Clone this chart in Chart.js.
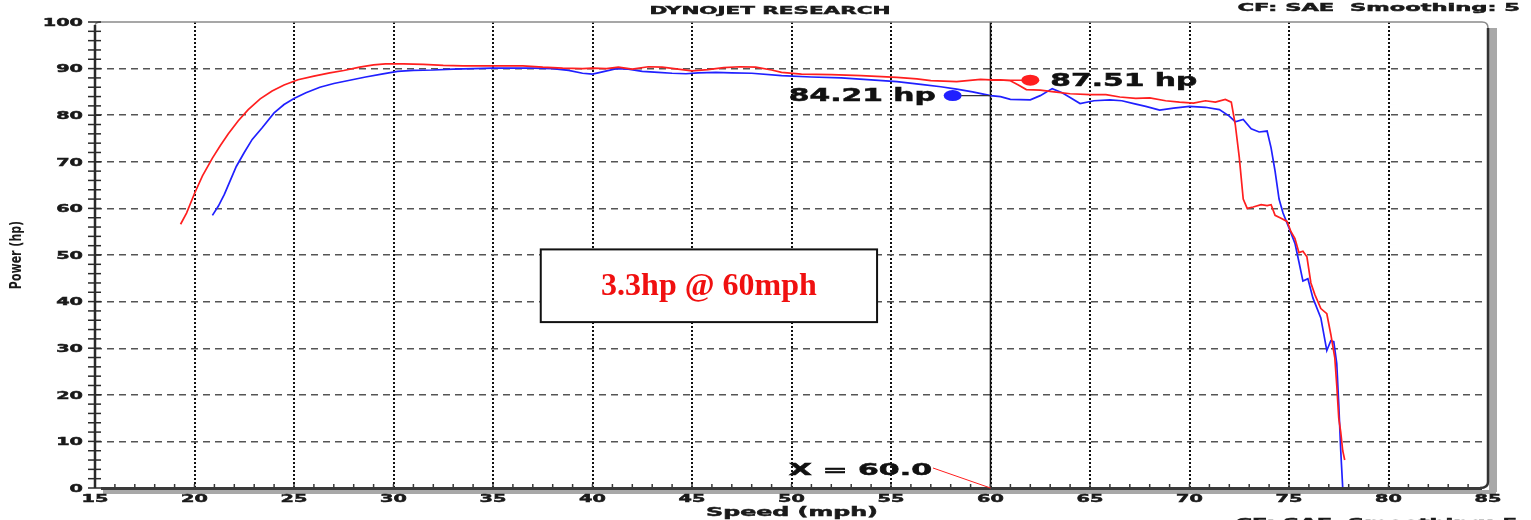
<!DOCTYPE html>
<html>
<head>
<meta charset="utf-8">
<script src="https://cdn.jsdelivr.net/npm/chart.js@4.4.1/dist/chart.umd.min.js"></script>
<style>
  html, body { margin: 0; padding: 0; background: #fff; }
  #wrap { width: 1531px; height: 520px; }
</style>
</head>
<body>
<div id="wrap"><canvas id="dyno"></canvas></div>
<script>
// run 1 (red) - speed in mph, power in hp
var redSpeed = [19.3, 19.6, 20.0, 20.4, 20.9, 21.3, 21.7, 22.2, 22.7, 23.3, 23.9, 24.5, 25.2, 26.0, 26.8, 27.5, 28.3, 29.0, 29.6, 30.5,
  31.5, 32.5, 33.5, 34.5, 35.5, 36.5, 37.5, 38.5, 39.5, 40.0, 40.7, 41.3, 42.0, 42.8, 43.5, 44.3, 45.0, 45.8, 46.6, 47.4,
  48.2, 49.0, 49.5, 50.5, 52.0, 53.5, 55.3, 56.3, 57.0, 58.3, 59.5, 60.0, 60.5, 61.0, 61.4, 61.8, 62.5, 63.2, 64.0, 65.0,
  65.8, 66.5, 67.3, 68.0, 68.8, 69.5, 70.2, 70.8, 71.3, 71.8, 72.1, 72.3, 72.5, 72.7, 72.9, 73.2, 73.6, 73.9,
  74.1, 74.3, 74.6, 74.9, 75.1, 75.3, 75.5, 75.7, 75.9, 76.1, 76.3, 76.6, 76.9, 77.1, 77.3, 77.4, 77.5, 77.6, 77.7, 77.8];
var redHp = [56.6, 59.0, 63.2, 67.0, 70.8, 73.5, 76.0, 78.8, 81.2, 83.5, 85.2, 86.5, 87.6, 88.4, 89.1, 89.6, 90.3, 90.8, 91.0, 91.0,
  90.9, 90.7, 90.6, 90.6, 90.6, 90.6, 90.3, 90.1, 90.0, 90.1, 90.0, 90.3, 89.9, 90.4, 90.3, 89.9, 89.5, 89.8, 90.2, 90.4,
  90.3, 89.7, 89.2, 88.8, 88.7, 88.5, 88.1, 87.8, 87.4, 87.2, 87.7, 87.6, 87.6, 87.4, 86.5, 85.5, 85.4, 85.0, 84.6, 84.4,
  84.4, 83.9, 83.6, 83.7, 83.1, 82.8, 82.6, 83.1, 82.8, 83.4, 82.8, 78.0, 71.0, 62.0, 60.0, 60.3, 60.8, 60.6,
  60.8, 58.5, 57.9, 57.2, 55.0, 53.5, 50.5, 50.8, 49.6, 44.0, 41.5, 38.5, 37.4, 33.0, 28.0, 22.0, 15.0, 12.0, 8.0, 6.0];

// run 2 (blue)
var blueSpeed = [20.9, 21.2, 21.5, 21.8, 22.1, 22.5, 22.9, 23.4, 24.0, 24.5, 25.0, 25.6, 26.3, 27.0, 27.8, 28.6, 29.4, 30.2, 31.0, 32.0,
  33.0, 34.0, 35.0, 36.0, 37.0, 38.0, 38.8, 39.5, 40.0, 40.5, 41.2, 41.8, 42.5, 43.3, 44.0, 44.7, 45.3, 46.2, 47.0, 48.0,
  49.5, 51.0, 52.5, 54.0, 55.3, 56.5, 57.5, 58.3, 59.1, 60.0, 60.5, 61.0, 62.0, 62.5, 63.1, 63.6, 64.0, 64.5, 65.2, 66.0,
  66.6, 67.2, 67.8, 68.5, 69.2, 70.0, 70.8, 71.5, 72.0, 72.3, 72.7, 73.1, 73.5, 73.9, 74.1, 74.3,
  74.5, 74.7, 75.0, 75.3, 75.5, 75.7, 75.95, 76.2, 76.6, 76.9, 77.1, 77.25, 77.4, 77.5, 77.6, 77.7];
var blueHp = [58.5, 60.5, 63.0, 66.0, 69.0, 72.0, 74.8, 77.3, 80.5, 82.3, 83.6, 84.8, 86.0, 86.8, 87.5, 88.2, 88.8, 89.4, 89.6, 89.7,
  89.9, 90.0, 90.1, 90.1, 90.1, 90.0, 89.6, 89.0, 88.8, 89.3, 90.0, 89.9, 89.4, 89.2, 89.0, 88.9, 89.1, 89.2, 89.1, 89.0,
  88.5, 88.2, 88.0, 87.6, 87.2, 86.6, 86.1, 85.6, 85.0, 84.2, 84.0, 83.4, 83.3, 84.2, 85.7, 84.8, 83.8, 82.5, 83.1, 83.3,
  83.1, 82.5, 81.9, 81.1, 81.5, 81.9, 81.7, 81.2, 79.8, 78.6, 79.1, 77.1, 76.4, 76.6, 73.0, 68.0,
  62.0, 59.0, 55.8, 52.5, 48.5, 44.4, 44.9, 40.8, 36.5, 29.5, 31.6, 31.4, 26.7, 18.0, 8.0, 0.0];

var xTicks = [15, 20, 25, 30, 35, 40, 45, 50, 55, 60, 65, 70, 75, 80, 85];
var yTicks = [0, 10, 20, 30, 40, 50, 60, 70, 80, 90, 100];

var cursorX = 60.0;
var redMarker = { x: 62.0, y: 87.51, label: '87.51 hp' };
var blueMarker = { x: 58.1, y: 84.21, label: '84.21 hp' };
var gainText = '3.3hp @ 60mph';

var RED = '#ff1f1f';
var BLUE = '#2020ff';

// wide bold text like the dyno software draws
function wideText(ctx, txt, x, y, size, sx, align, color) {
    ctx.save();
    ctx.font = 'bold ' + size + 'px "DejaVu Sans"';
    ctx.fillStyle = color;
    ctx.strokeStyle = color;
    ctx.lineWidth = 0.5;
    ctx.textBaseline = 'middle';
    ctx.textAlign = 'left';
    var w = ctx.measureText(txt).width * sx;
    var x0 = align === 'center' ? x - w / 2 : (align === 'right' ? x - w : x);
    ctx.translate(x0, y);
    ctx.scale(sx, 1);
    ctx.fillText(txt, 0, 0);
    ctx.strokeText(txt, 0, 0);
    ctx.restore();
}

function dot(ctx, x, y, color) {
    ctx.save();
    ctx.fillStyle = color;
    ctx.beginPath();
    ctx.ellipse(x, y, 9, 5.5, 0, 0, Math.PI * 2);
    ctx.fill();
    ctx.restore();
}

var dynoPlugin = {
    id: 'dyno',
    beforeDatasetsDraw: function(chart) {
        var ctx = chart.ctx, a = chart.chartArea;
        var xs = chart.scales.x;
        var cx = xs.getPixelForValue(cursorX);
        ctx.save();
        ctx.strokeStyle = '#111';
        ctx.lineWidth = 1.6;
        ctx.beginPath();
        ctx.moveTo(cx, a.top);
        ctx.lineTo(cx, a.bottom);
        ctx.stroke();
        ctx.restore();
    },
    afterDraw: function(chart) {
        var ctx = chart.ctx, a = chart.chartArea;
        var xs = chart.scales.x, ys = chart.scales.y;
        ctx.save();

        // frame: top border and right shadow
        ctx.strokeStyle = '#8a8a8a';
        ctx.lineWidth = 1.5;
        ctx.beginPath();
        ctx.moveTo(a.left, a.top + 4);
        ctx.quadraticCurveTo(a.left, a.top, a.left + 6, a.top);
        ctx.lineTo(a.right - 6, a.top);
        ctx.quadraticCurveTo(a.right, a.top, a.right, a.top + 6);
        ctx.stroke();
        ctx.fillStyle = '#a8a8a8';
        ctx.fillRect(a.right + 1, a.top + 6, 8, a.bottom - a.top - 2);
        ctx.fillRect(a.left + 8, a.bottom + 2, a.right - a.left, 4);
        ctx.strokeStyle = '#333';
        ctx.lineWidth = 2.5;
        ctx.beginPath();
        ctx.moveTo(a.right, a.top + 6);
        ctx.lineTo(a.right, a.bottom - 6);
        ctx.quadraticCurveTo(a.right, a.bottom, a.right - 8, a.bottom);
        ctx.stroke();

        // y axis with minor ticks every 2 hp
        ctx.strokeStyle = '#2a2a2a';
        ctx.lineWidth = 2.5;
        ctx.beginPath();
        ctx.moveTo(a.left, a.top + 3);
        ctx.lineTo(a.left, a.bottom);
        ctx.stroke();
        ctx.lineWidth = 1.5;
        for (var v = 0; v <= 100; v += 2) {
            var py = ys.getPixelForValue(v);
            ctx.beginPath();
            ctx.moveTo(a.left - 7, py);
            ctx.lineTo(a.left + 6, py);
            ctx.stroke();
        }
        // x axis bar with minor ticks every 1 mph
        ctx.strokeStyle = '#3a3a3a';
        ctx.lineWidth = 3;
        ctx.beginPath();
        ctx.moveTo(a.left + 6, a.bottom + 0.5);
        ctx.lineTo(a.right - 6, a.bottom + 0.5);
        ctx.stroke();
        ctx.lineWidth = 1.5;
        for (var s = 16; s < 85; s++) {
            var px = xs.getPixelForValue(s);
            ctx.beginPath();
            ctx.moveTo(px, a.bottom - 4);
            ctx.lineTo(px, a.bottom + 1);
            ctx.stroke();
        }

        // tick labels
        yTicks.forEach(function(t) {
            wideText(ctx, String(t), a.left - 12, ys.getPixelForValue(t) + 1, 11, 1.75, 'right', '#1a1a1a');
        });
        xTicks.forEach(function(t) {
            wideText(ctx, String(t), xs.getPixelForValue(t), a.bottom + 11, 11, 1.75, 'center', '#1a1a1a');
        });

        // titles
        wideText(ctx, 'DYNOJET RESEARCH', 770, 11, 11, 1.95, 'center', '#1a1a1a');
        wideText(ctx, 'CF: SAE  Smoothing: 5', 1520, 8, 11, 2.05, 'right', '#1a1a1a');
        wideText(ctx, 'CF: SAE  Smoothing: 5', 1518, 523, 11, 2.05, 'right', '#1a1a1a');
        wideText(ctx, 'Speed (mph)', 792, 513, 12.5, 1.9, 'center', '#1a1a1a');
        ctx.save();
        ctx.translate(17, 255);
        ctx.rotate(-Math.PI / 2);
        ctx.scale(1, 1.5);
        ctx.font = 'bold 11px "DejaVu Sans"';
        ctx.fillStyle = '#1a1a1a';
        ctx.textAlign = 'center';
        ctx.textBaseline = 'middle';
        ctx.fillText('Power (hp)', 0, 0);
        ctx.restore();

        // cursor readout
        var cx = xs.getPixelForValue(cursorX);
        ctx.strokeStyle = RED;
        ctx.lineWidth = 1;
        ctx.beginPath();
        ctx.moveTo(933, 468);
        ctx.lineTo(cx, a.bottom);
        ctx.stroke();
        wideText(ctx, 'X = ' + cursorX.toFixed(1), 932, 471, 15, 2.0, 'right', '#111');

        // markers
        var ry = ys.getPixelForValue(redMarker.y), rx = xs.getPixelForValue(redMarker.x);
        ctx.strokeStyle = RED;
        ctx.lineWidth = 1.5;
        ctx.beginPath();
        ctx.moveTo(cx, ry);
        ctx.lineTo(rx, ry);
        ctx.stroke();
        dot(ctx, rx, ry, RED);
        wideText(ctx, redMarker.label, rx + 20, ry + 1, 17, 1.75, 'left', '#111');

        var by = ys.getPixelForValue(blueMarker.y), bx = xs.getPixelForValue(blueMarker.x);
        ctx.strokeStyle = '#333';
        ctx.lineWidth = 1.2;
        ctx.beginPath();
        ctx.moveTo(bx, by);
        ctx.lineTo(cx, by);
        ctx.stroke();
        dot(ctx, bx, by, BLUE);
        wideText(ctx, blueMarker.label, bx - 17, by + 1, 17, 1.75, 'right', '#111');

        // gain box
        var bx0 = xs.getPixelForValue(37.4), bx1 = xs.getPixelForValue(54.3);
        var by0 = ys.getPixelForValue(51.2), by1 = ys.getPixelForValue(35.6);
        ctx.fillStyle = '#fff';
        ctx.fillRect(bx0, by0, bx1 - bx0, by1 - by0);
        ctx.strokeStyle = '#111';
        ctx.lineWidth = 2;
        ctx.strokeRect(bx0, by0, bx1 - bx0, by1 - by0);
        ctx.font = 'bold 32px "Liberation Serif"';
        ctx.fillStyle = '#f01010';
        ctx.textAlign = 'center';
        ctx.textBaseline = 'middle';
        ctx.fillText(gainText, (bx0 + bx1) / 2, (by0 + by1) / 2 + 1);

        ctx.restore();
    }
};

function toPoints(xs, ys) {
    return xs.map(function(x, i) { return { x: x, y: ys[i] }; });
}

const ctx = document.getElementById('dyno');
new Chart(ctx, {
    type: 'line',
    data: {
        datasets: [{
            label: 'Run 1',
            data: toPoints(redSpeed, redHp),
            borderColor: RED,
            borderWidth: 1.7,
            pointRadius: 0,
            tension: 0
        }, {
            label: 'Run 2',
            data: toPoints(blueSpeed, blueHp),
            borderColor: BLUE,
            borderWidth: 1.7,
            pointRadius: 0,
            tension: 0
        }]
    },
    options: {
        responsive: true,
        maintainAspectRatio: false,
        animation: false,
        events: [],
        layout: { padding: { left: 0, top: 22, right: 43, bottom: 0 } },
        plugins: {
            legend: { display: false },
            tooltip: { enabled: false }
        },
        scales: {
            x: {
                type: 'linear',
                min: 15,
                max: 85,
                ticks: { stepSize: 5, display: false },
                grid: {
                    color: function(c) { return (c.tick && (c.tick.value === 15 || c.tick.value === 85)) ? 'rgba(0,0,0,0)' : '#111'; },
                    lineWidth: 2,
                    drawTicks: false
                },
                border: { display: false, dash: [2, 2] },
                afterFit: function(scale) { scale.height = 32; }
            },
            y: {
                min: 0,
                max: 100,
                ticks: { stepSize: 10, display: false },
                grid: {
                    color: function(c) { return (c.tick && (c.tick.value === 0 || c.tick.value === 100)) ? 'rgba(0,0,0,0)' : '#555'; },
                    lineWidth: 1.4,
                    drawTicks: false
                },
                border: { display: false, dash: [7, 5] },
                afterFit: function(scale) { scale.width = 95; }
            }
        }
    },
    plugins: [dynoPlugin]
});
</script>
</body>
</html>
